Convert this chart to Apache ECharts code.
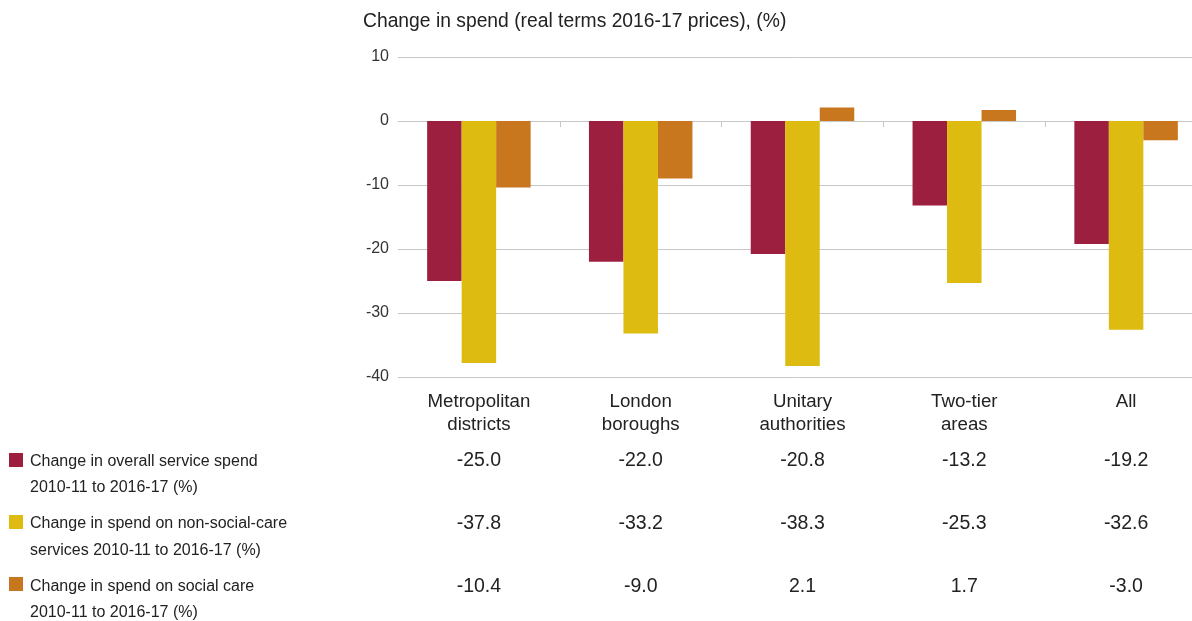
<!DOCTYPE html>
<html>
<head>
<meta charset="utf-8">
<script src="https://cdn.jsdelivr.net/npm/echarts@6/dist/echarts.min.js"></script>
<style>
  html, body { margin: 0; padding: 0; background: #fff; }
  #main { width: 1192px; height: 621px; }
</style>
</head>
<body>
<div id="main"></div>
<script>
var categories = ['Metropolitan\ndistricts', 'London\nboroughs', 'Unitary\nauthorities', 'Two-tier\nareas', 'All']
var overall = [-25.0, -22.0, -20.8, -13.2, -19.2]
var nonSocial = [-37.8, -33.2, -38.3, -25.3, -32.6]
var socialCare = [-10.4, -9.0, 2.1, 1.7, -3.0]
var seriesNames = [
  'Change in overall service spend\n2010-11 to 2016-17 (%)',
  'Change in spend on non-social-care\nservices 2010-11 to 2016-17 (%)',
  'Change in spend on social care\n2010-11 to 2016-17 (%)'
]
var colors = ['#9c1f40', '#ddbb10', '#c8771f']

var font = 'Liberation Sans, Arial, sans-serif'
var textColor = '#222'
var gridBottom = 377

function valueAxis (values, center) {
  // one row of the table under the chart
  return {
    type: 'category',
    position: 'bottom',
    data: values.map(function (v) { return v.toFixed(1) }),
    axisLine: { show: false, onZero: false },
    axisTick: { show: false },
    splitLine: { show: false },
    axisLabel: {
      interval: 0,
      fontFamily: font,
      fontSize: 19.5,
      lineHeight: 22,
      color: textColor,
      margin: center - gridBottom - 11
    }
  }
}

var myChart = echarts.init(document.getElementById('main'))
var option = {
  animation: false,
  color: colors,
  title: {
    text: 'Change in spend (real terms 2016-17 prices), (%)',
    left: 363,
    top: 12,
    padding: 0,
    textStyle: { fontFamily: font, fontSize: 19.3, fontWeight: 'normal', color: textColor }
  },
  grid: {
    left: 398,
    width: 809,
    top: 57,
    bottom: 621 - gridBottom,
    containLabel: false,
    outerBoundsMode: 'none'
  },
  xAxis: [
    {
      type: 'category',
      data: categories,
      axisLine: { onZero: true, lineStyle: { color: '#c8c8c8' } },
      axisTick: {
        show: true,
        length: 6,
        interval: function (i) { return i > 0 },
        lineStyle: { color: '#c8c8c8' }
      },
      axisLabel: { show: false }
    },
    {
      type: 'category',
      position: 'bottom',
      data: categories,
      axisLine: { show: false, onZero: false },
      axisTick: { show: false },
      axisLabel: {
        interval: 0,
        fontFamily: font,
        fontSize: 18.7,
        lineHeight: 23,
        color: textColor,
        margin: 13.5
      }
    },
    valueAxis(overall, 461),
    valueAxis(nonSocial, 524),
    valueAxis(socialCare, 586.5)
  ],
  yAxis: {
    type: 'value',
    min: -40,
    max: 10,
    interval: 10,
    axisLine: { show: false },
    axisTick: { show: false },
    splitLine: { lineStyle: { color: '#c8c8c8', width: 1 } },
    axisLabel: { fontFamily: font, fontSize: 16, color: '#333', margin: 9 }
  },
  series: [
    { name: seriesNames[0], type: 'bar', barWidth: 34.5, barGap: 0, data: overall },
    { name: seriesNames[1], type: 'bar', barWidth: 34.5, barGap: 0, data: nonSocial },
    { name: seriesNames[2], type: 'bar', barWidth: 34.5, barGap: 0, data: socialCare }
  ],
  graphic: []
}

// legend on the left, next to the table rows
seriesNames.forEach(function (name, i) {
  option.graphic.push({
    type: 'rect',
    left: 9,
    top: 453 + 62 * i,
    shape: { width: 14, height: 14 },
    style: { fill: colors[i] }
  })
  option.graphic.push({
    type: 'text',
    left: 30,
    top: 448 + 62.5 * i,
    style: {
      text: name,
      fontFamily: font,
      fontSize: 16,
      lineHeight: 26.5,
      fill: textColor
    }
  })
})

option && myChart.setOption(option)
</script>
</body>
</html>
